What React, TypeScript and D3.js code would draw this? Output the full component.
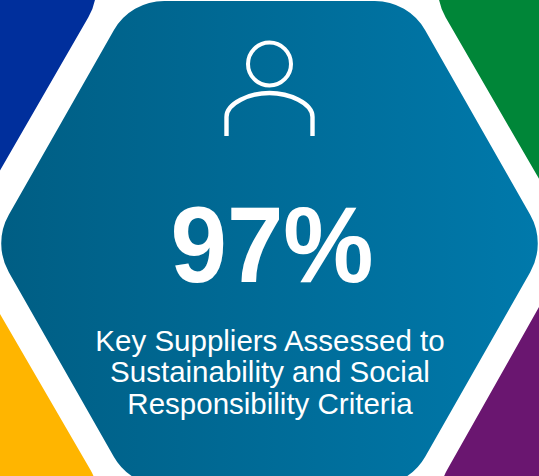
import React from "react";
import * as d3 from "d3";

const WIDTH = 539;
const HEIGHT = 476;

const headlineValue = 97;
const captionLines = [
  "Key Suppliers Assessed to",
  "Sustainability and Social",
  "Responsibility Criteria",
];
const captionBaselines = [350.5, 382, 413.5];

// Outline corners of the central hexagon, and of the neighbours cropped by the canvas
const mainHexagon: number[][] = [
  [130.5, 1], [408.5, 1], [546.5, 243.5], [408.5, 486], [130.5, 486], [-7.5, 243.5],
];
const neighbours = [
  { name: "blue", color: "#002F9C", corners: [[40, -125], [105, -11.5], [-40, 240], [-150, 240], [-150, -125]] },
  { name: "green", color: "#008638", corners: [[689, -125], [494, -125], [429, -11.5], [579, 248], [689, 248]] },
  { name: "yellow", color: "#FFB500", corners: [[-40, 245], [107, 498.5], [42, 612], [-150, 612], [-150, 245]] },
  { name: "purple", color: "#6A1670", corners: [[579, 236], [431, 498.5], [496, 612], [689, 612], [689, 236]] },
];
const cornerRadius = 58;
const gradientStops = [
  { offset: "0%", color: "#005E84" },
  { offset: "100%", color: "#0079AB" },
];

// Closed polygon whose corners are rounded with circular arcs
function roundedPolygon(corners: number[][], radius: number): string {
  const p = d3.path();
  const n = corners.length;
  const [x0, y0] = corners[0];
  const [xl, yl] = corners[n - 1];
  p.moveTo((x0 + xl) / 2, (y0 + yl) / 2);
  for (let i = 0; i < n; i++) {
    const [x1, y1] = corners[i];
    const [x2, y2] = corners[(i + 1) % n];
    p.arcTo(x1, y1, x2, y2, radius);
  }
  p.closePath();
  return p.toString();
}

const shoulders = (() => {
  const p = d3.path();
  p.moveTo(226.5, 136);
  p.lineTo(226.5, 117);
  p.bezierCurveTo(226.5, 103, 250, 93, 269.5, 93);
  p.bezierCurveTo(289, 93, 312.5, 103, 312.5, 117);
  p.lineTo(312.5, 136);
  return p.toString();
})();

export default function App() {
  return (
    <svg
      width={WIDTH}
      height={HEIGHT}
      viewBox={`0 0 ${WIDTH} ${HEIGHT}`}
      style={{ position: "absolute", left: 0, top: 0, background: "#fff" }}
    >
      <defs>
        <linearGradient id="hexFill" x1="0" y1="0" x2="1" y2="0">
          {gradientStops.map((s) => (
            <stop key={s.offset} offset={s.offset} stopColor={s.color} />
          ))}
        </linearGradient>
      </defs>
      {neighbours.map((h) => (
        <path key={h.name} d={roundedPolygon(h.corners, cornerRadius)} fill={h.color} />
      ))}
      <path d={roundedPolygon(mainHexagon, cornerRadius)} fill="url(#hexFill)" />
      <circle cx={269.5} cy={64} r={21.5} fill="none" stroke="#fff" strokeWidth={4} />
      <path d={shoulders} fill="none" stroke="#fff" strokeWidth={4.4} />
      <text
        transform="translate(272 282) scale(1 1.06)"
        textAnchor="middle"
        fontFamily="'Liberation Sans', Arial, sans-serif"
        fontWeight="bold"
        fontSize={101.5}
        fill="#fff"
      >
        {headlineValue}%
      </text>
      {captionLines.map((line, i) => (
        <text
          key={line}
          x={270}
          y={captionBaselines[i]}
          textAnchor="middle"
          fontFamily="'Liberation Sans', Arial, sans-serif"
          fontSize={29.5}
          fill="#fff"
        >
          {line}
        </text>
      ))}
    </svg>
  );
}
